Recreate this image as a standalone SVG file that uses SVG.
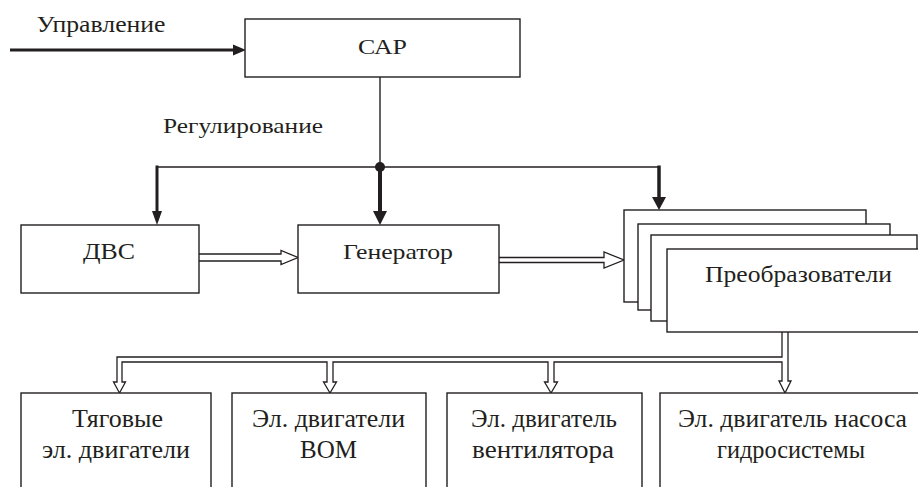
<svg xmlns="http://www.w3.org/2000/svg" width="918" height="487" viewBox="0 0 918 487">
<style>
.box{fill:#fff;stroke:#231f20;stroke-width:1.4}
.t{font-family:'Liberation Serif','Times New Roman',serif;fill:#231f20;text-anchor:middle}
.thin{fill:none;stroke:#231f20;stroke-width:1.4}
.heavy{fill:none;stroke:#231f20;stroke-width:3}
.head{fill:#231f20;stroke:none}
.hollow{fill:#fff;stroke:#231f20;stroke-width:1.3;stroke-linejoin:miter}
</style>
<rect width="918" height="487" fill="#fff"/>
<g id="connectors">
  <line class="heavy" x1="10" y1="50" x2="234" y2="50"/>
  <polygon class="head" points="233,44.5 246,50 233,55.5"/>
  <line class="thin" x1="380" y1="77" x2="380" y2="167"/>
  <line class="thin" x1="157" y1="167" x2="659" y2="167"/>
  <line class="heavy" x1="157" y1="165.5" x2="157" y2="213"/>
  <polygon class="head" points="152,211 162,211 157,225"/>
  <line class="heavy" x1="380" y1="167" x2="380" y2="213" style="stroke-width:4"/>
  <polygon class="head" points="373,211 387,211 380,225"/>
  <line class="heavy" x1="659" y1="165.5" x2="659" y2="198" style="stroke-width:3.5"/>
  <polygon class="head" points="652,197 666,197 659,210"/>
  <circle cx="380" cy="167" r="5" fill="#231f20"/>
  <path class="hollow" d="M199,254 H281 V250.5 L298,257.5 L281,264.5 V261 H199"/>
  <path class="hollow" d="M499,257.5 H604 V252 L624,260 L604,268 V262.5 H499"/>
  <path class="hollow" d="M782,332 V357 H117 V382 H113.5 L119.5,393 L125.5,382 H122 V362 H327 V382 H323.5 L330,393 L336.5,382 H333 V362 H548 V382 H544.5 L551,393 L557.5,382 H554 V362 H782 V381 H779 L785,393 L791,381 H788 V332"/>
</g>
<g id="label-upravlenie"><text class="t" x="101" y="31.5" font-size="24" textLength="129" lengthAdjust="spacingAndGlyphs">Управление</text></g>
<g id="label-regulirovanie"><text class="t" x="243" y="132.5" font-size="22" textLength="160" lengthAdjust="spacingAndGlyphs">Регулирование</text></g>
<g id="node-sar">
  <rect class="box" x="245" y="19" width="275" height="58"/>
  <text class="t" x="382.5" y="54" font-size="22" textLength="49" lengthAdjust="spacingAndGlyphs">САР</text>
</g>
<g id="node-dvs">
  <rect class="box" x="21" y="225" width="178" height="68"/>
  <text class="t" x="109" y="259" font-size="23" textLength="52" lengthAdjust="spacingAndGlyphs">ДВС</text>
</g>
<g id="node-generator">
  <rect class="box" x="298" y="225" width="201" height="68"/>
  <text class="t" x="398" y="258.5" font-size="22" textLength="110" lengthAdjust="spacingAndGlyphs">Генератор</text>
</g>
<g id="node-preobrazovateli">
  <rect class="box" x="624" y="210" width="242" height="92"/>
  <rect class="box" x="638" y="224" width="252" height="86"/>
  <rect class="box" x="651" y="235" width="266" height="86"/>
  <rect class="box" x="667" y="249" width="270" height="83"/>
  <text class="t" x="798.5" y="282" font-size="23" textLength="187" lengthAdjust="spacingAndGlyphs">Преобразователи</text>
</g>
<g id="node-tyagovye">
  <rect class="box" x="21" y="393" width="190" height="110"/>
  <text class="t" x="117.5" y="427" font-size="25" textLength="91" lengthAdjust="spacingAndGlyphs">Тяговые</text>
  <text class="t" x="116" y="458" font-size="25" textLength="148" lengthAdjust="spacingAndGlyphs">эл. двигатели</text>
</g>
<g id="node-vom">
  <rect class="box" x="232" y="393" width="194" height="110"/>
  <text class="t" x="328.5" y="427" font-size="25" textLength="153" lengthAdjust="spacingAndGlyphs">Эл. двигатели</text>
  <text class="t" x="328.5" y="458" font-size="25" textLength="57" lengthAdjust="spacingAndGlyphs">ВОМ</text>
</g>
<g id="node-ventilyator">
  <rect class="box" x="447" y="393" width="195" height="110"/>
  <text class="t" x="544" y="427" font-size="25" textLength="146" lengthAdjust="spacingAndGlyphs">Эл. двигатель</text>
  <text class="t" x="543" y="458" font-size="25" textLength="142" lengthAdjust="spacingAndGlyphs">вентилятора</text>
</g>
<g id="node-nasos">
  <rect class="box" x="660" y="393" width="280" height="110"/>
  <text class="t" x="792.5" y="427" font-size="25" textLength="229" lengthAdjust="spacingAndGlyphs">Эл. двигатель насоса</text>
  <text class="t" x="791" y="458" font-size="25" textLength="148" lengthAdjust="spacingAndGlyphs">гидросистемы</text>
</g>
</svg>
